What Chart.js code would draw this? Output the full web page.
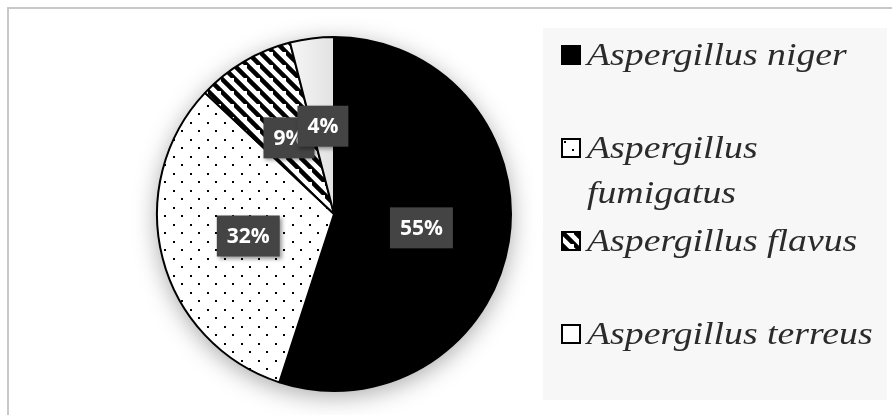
<!DOCTYPE html>
<html>
<head>
<meta charset="utf-8">
<script src="https://cdn.jsdelivr.net/npm/chart.js@4.4.1/dist/chart.umd.min.js"></script>
<style>
  html, body { margin: 0; padding: 0; background: #fff; }
  canvas { display: block; }
</style>
</head>
<body>
<canvas id="myChart" width="892" height="415"></canvas>
<script>
const labels = ['Aspergillus niger', 'Aspergillus fumigatus', 'Aspergillus flavus', 'Aspergillus terreus'];
const values = [55, 32, 9, 4];
const percentLabels = ['55%', '32%', '9%', '4%'];

const ctx = document.getElementById('myChart').getContext('2d');

// fill patterns, black & white like the print figure
function makeDots() {
  const c = document.createElement('canvas');
  c.width = 17; c.height = 17;
  const g = c.getContext('2d');
  g.fillStyle = '#fff';
  g.fillRect(0, 0, 17, 17);
  g.fillStyle = '#000';
  g.fillRect(3, 3, 2, 2);
  g.fillRect(11, 11, 2, 2);
  return ctx.createPattern(c, 'repeat');
}

function makeStripes() {
  const s = 13;
  const c = document.createElement('canvas');
  c.width = s; c.height = s;
  const g = c.getContext('2d');
  g.fillStyle = '#fff';
  g.fillRect(0, 0, s, s);
  g.strokeStyle = '#000';
  g.lineWidth = 4.5;
  g.beginPath();
  g.moveTo(-2, -2); g.lineTo(s + 2, s + 2);
  g.moveTo(-s - 2, -2); g.lineTo(2, s + 2);
  g.moveTo(s - 2, -s - 2); g.lineTo(2 * s + 2, s + 2);
  g.stroke();
  return ctx.createPattern(c, 'repeat');
}

function makeGrey() {
  const gr = ctx.createLinearGradient(290, 0, 334, 0);
  gr.addColorStop(0, '#f6f6f6');
  gr.addColorStop(1, '#e2e2e2');
  return gr;
}

const fills = ['#000000', makeDots(), makeStripes(), makeGrey()];

const backdrop = {
  id: 'backdrop',
  beforeDraw(chart) {
    const c = chart.ctx;
    c.save();
    c.fillStyle = '#fff';
    c.fillRect(0, 0, chart.width, chart.height);
    c.fillStyle = '#c8c8c8';
    c.fillRect(7, 7, chart.width - 7, 2);
    c.fillRect(7, 7, 2, chart.height - 7);
    c.fillStyle = '#f7f7f7';
    c.fillRect(543, 28, 344, 372);
    c.restore();
  },
  beforeDatasetsDraw(chart) {
    const arc = chart.getDatasetMeta(0).data[0];
    const c = chart.ctx;
    c.save();
    c.shadowColor = 'rgba(0,0,0,0.35)';
    c.shadowBlur = 24;
    c.shadowOffsetY = 5;
    c.fillStyle = '#fff';
    c.beginPath();
    c.arc(arc.x, arc.y, arc.outerRadius, 0, Math.PI * 2);
    c.fill();
    c.restore();
  }
};

const boxLabels = {
  id: 'boxLabels',
  afterDatasetsDraw(chart) {
    const c = chart.ctx;
    const meta = chart.getDatasetMeta(0);
    c.save();
    c.font = 'bold 21px "Open Sans"';
    c.textAlign = 'center';
    c.textBaseline = 'middle';
    meta.data.forEach((arc, i) => {
      const p = arc.tooltipPosition();
      const txt = percentLabels[i];
      const w = c.measureText(txt).width + 20;
      const h = 41;
      c.save();
      c.shadowColor = 'rgba(0,0,0,0.4)';
      c.shadowBlur = 4;
      c.shadowOffsetX = 2;
      c.shadowOffsetY = 2;
      c.fillStyle = '#444444';
      c.fillRect(p.x - w / 2, p.y - h / 2, w, h);
      c.restore();
      c.fillStyle = '#fff';
      c.fillText(txt, p.x, p.y + 1);
    });
    c.restore();
  }
};

const sideLegend = {
  id: 'sideLegend',
  afterDraw(chart) {
    const c = chart.ctx;
    const ds = chart.data.datasets[0];
    const sx = 1.18;
    const maxW = 298;
    c.save();
    c.font = 'italic 32px "Liberation Serif"';
    c.textBaseline = 'alphabetic';
    chart.data.labels.forEach((lab, i) => {
      const top = 45 + i * 93;
      // marker
      c.save();
      c.translate(561, top);
      c.fillStyle = i === 3 ? '#fff' : ds.backgroundColor[i];
      c.fillRect(0, 0, 20, 20);
      c.strokeStyle = '#000';
      c.lineWidth = 2;
      c.strokeRect(1, 1, 18, 18);
      c.restore();
      // text, wrapped by words
      const words = lab.split(' ');
      const lines = [];
      let line = '';
      words.forEach(wd => {
        const test = line ? line + ' ' + wd : wd;
        if (line && c.measureText(test).width * sx > maxW) {
          lines.push(line);
          line = wd;
        } else {
          line = test;
        }
      });
      lines.push(line);
      c.fillStyle = '#2b2b2b';
      lines.forEach((ln, k) => {
        c.save();
        c.translate(587, top + 20 + k * 45);
        c.scale(sx, 1);
        c.fillText(ln, 0, 0);
        c.restore();
      });
    });
    c.restore();
  }
};

function build() {
  new Chart(ctx, {
    type: 'pie',
    data: {
      labels,
      datasets: [{
        data: values,
        backgroundColor: fills,
        borderColor: '#000',
        borderWidth: 2
      }]
    },
    options: {
      responsive: false,
      animation: false,
      devicePixelRatio: 1,
      layout: { padding: { left: 156, top: 36, right: 380, bottom: 23 } },
      plugins: {
        legend: { display: false },
        tooltip: { enabled: false }
      }
    },
    plugins: [backdrop, boxLabels, sideLegend]
  });
}

Promise.all([
  document.fonts.load('italic 32px "Liberation Serif"'),
  document.fonts.load('bold 21px "Open Sans"')
]).then(build, build);
</script>
</body>
</html>
